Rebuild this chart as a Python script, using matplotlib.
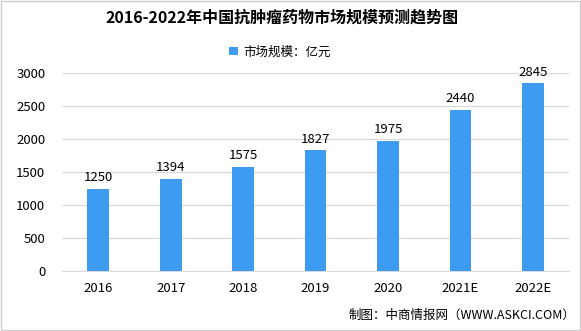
import matplotlib.pyplot as plt
from matplotlib.patches import Rectangle

plt.rcParams['font.family'] = ['Noto Sans CJK SC', 'DejaVu Sans']

years = ['2016', '2017', '2018', '2019', '2020', '2021E', '2022E']
market_size = [1250, 1394, 1575, 1827, 1975, 2440, 2845]
y_ticks = [0, 500, 1000, 1500, 2000, 2500, 3000]

bar_color = '#3d9cf2'

fig = plt.figure(figsize=(5.81, 3.31), dpi=100)
ax = fig.add_axes([0.1067, 0.1813, 0.873, 0.598])

x = list(range(len(years)))
bars = ax.bar(x, market_size, width=0.3, color=bar_color, label='市场规模：亿元', zorder=3)
for xi, v in zip(x, market_size):
    ax.text(xi, v + 70, str(v), ha='center', va='bottom', fontsize=9.5)

ax.set_xlim(-0.5, len(years) - 0.5)
ax.set_ylim(0, 3000)
ax.set_yticks(y_ticks)
ax.set_xticks(x)
ax.set_xticklabels(years)
ax.tick_params(axis='both', length=0, labelsize=9.5)
ax.tick_params(axis='y', pad=12)
ax.tick_params(axis='x', pad=8)
ax.grid(axis='y', color='#d9d9d9', linewidth=0.9, zorder=0)
for s in ['top', 'right', 'left']:
    ax.spines[s].set_visible(False)
ax.spines['bottom'].set_color('#d9d9d9')

fig.text(0.486, 0.946, '2016-2022年中国抗肿瘤药物市场规模预测趋势图',
         ha='center', va='center', fontsize=11.5, fontweight='bold')
fig.legend(handles=[bars], loc='center', bbox_to_anchor=(0.482, 0.843), frameon=False,
           fontsize=9, handlelength=0.7, handleheight=0.7, handletextpad=0.4)
fig.text(0.99, 0.048, '制图：中商情报网（WWW.ASKCI.COM）', ha='right', va='center', fontsize=9)

fig.patches.append(Rectangle((0.002, 0.003), 0.996, 0.994, transform=fig.transFigure,
                             fill=False, edgecolor='#cccccc', linewidth=1))

fig.savefig('out.png', dpi=100)
